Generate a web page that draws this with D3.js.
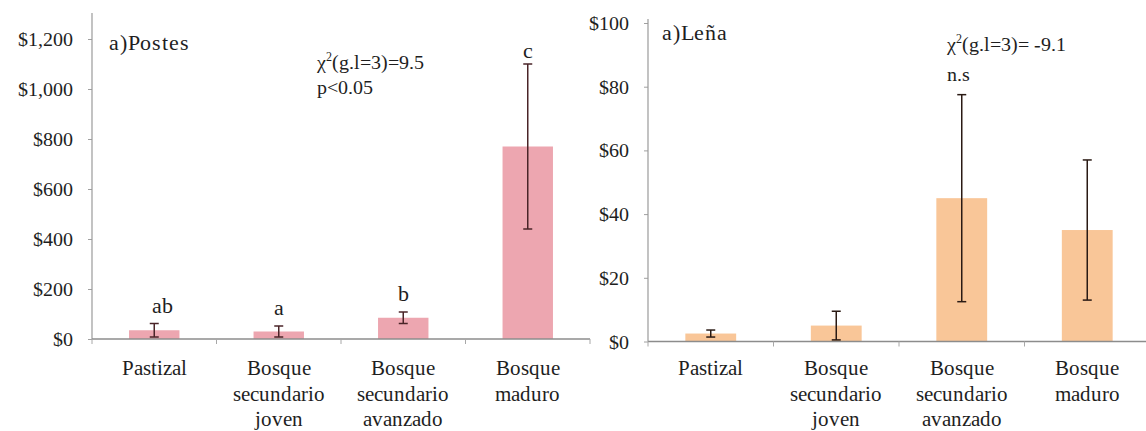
<!DOCTYPE html>
<html>
<head>
<meta charset="utf-8">
<script src="https://cdn.jsdelivr.net/npm/d3@7"></script>
<style>
  @font-face { font-family: "ChartSerif"; src: local("Liberation Serif"), local("LiberationSerif"), local("Tinos"), local("Times New Roman"); }
  html, body { margin: 0; padding: 0; background: #fff; }
  svg { display: block; }
  svg text { fill: #1e1e1e; }
</style>
</head>
<body>
<svg id="chart" width="1146" height="431"></svg>
<script>
// Land-use categories (x axis), one line per label row
const categories = ["Pastizal", "Bosque secundario joven", "Bosque secundario avanzado", "Bosque maduro"];
const categoryLines = [["Pastizal"], ["Bosque", "secundario", "joven"], ["Bosque", "secundario", "avanzado"], ["Bosque", "maduro"]];

// Panel 1: posts (postes) value, mean and error
const postesMean = [35, 30, 85, 770];
const postesErr = [27, 22, 23, 330];
const postesLetters = ["ab", "a", "b", "c"];
const postesTicks = [0, 200, 400, 600, 800, 1000, 1200];

// Panel 2: firewood (leña) value, mean and error
const lenaMean = [2.5, 5, 45, 35];
const lenaErr = [1.1, 4.5, 32.5, 22];
const lenaTicks = [0, 20, 40, 60, 80, 100];

const svg = d3.select("#chart");
const fmt = d3.format("$,");
const FONT = '"ChartSerif", "Liberation Serif", "Times New Roman", serif';

// all text is placed on the root svg, in serif
function label(x, y, size, txt, anchor) {
  return svg.append("text")
    .attr("x", x).attr("y", y)
    .attr("font-size", size).attr("text-anchor", anchor || "start")
    .attr("font-family", FONT)
    .style("font-family", FONT)
    .text(txt);
}

function drawPanel(p) {
  const g = svg.append("g");
  const rows = categories.map((c, i) => ({ c, lines: categoryLines[i], mean: p.mean[i], err: p.err[i], letter: p.letters ? p.letters[i] : null }));

  const x = d3.scaleBand().domain(categories).range([p.x0, p.x1]).paddingInner(0.595).paddingOuter(0.2975);
  const y = d3.scaleLinear().domain(p.domain).range([p.y0, p.yTop]);

  // y axis: tick marks from d3.axisLeft, labels in serif
  const yAxis = d3.axisLeft(y).tickValues(p.ticks).tickFormat("").tickSize(4).tickSizeOuter(0);
  const ya = g.append("g").attr("transform", `translate(${p.x0},0)`).call(yAxis);
  ya.select(".domain").remove();
  ya.selectAll(".tick line").attr("stroke", "#a0a0a0");
  p.ticks.forEach(t => label(p.x0 - 19, y(t) + 7, 20, fmt(t), "end"));
  g.append("line").attr("x1", p.x0).attr("x2", p.x0).attr("y1", p.y0).attr("y2", p.lineTop)
    .attr("stroke", "#9a9a9a").attr("stroke-width", 1.2);

  // bars
  g.selectAll("rect.bar").data(rows).join("rect").attr("class", "bar")
    .attr("x", d => x(d.c)).attr("width", x.bandwidth())
    .attr("y", d => y(d.mean)).attr("height", d => y(0) - y(d.mean))
    .attr("fill", p.color);

  // x axis line with category separators
  g.append("line").attr("x1", p.x0).attr("x2", p.x1).attr("y1", y(0)).attr("y2", y(0))
    .attr("stroke", "#8c8c8c").attr("stroke-width", 1.6);
  const step = x.step();
  g.selectAll("line.sep").data(d3.range(categories.length + 1)).join("line").attr("class", "sep")
    .attr("x1", i => p.x0 + i * step).attr("x2", i => p.x0 + i * step)
    .attr("y1", y(0)).attr("y2", y(0) + 5).attr("stroke", "#a8a8a8").attr("stroke-width", 1);

  // error bars
  const cx = d => x(d.c) + x.bandwidth() / 2;
  const lo = d => y(Math.max(0, d.mean - d.err));
  const hi = d => y(d.mean + d.err);
  const eb = g.selectAll("g.err").data(rows).join("g").attr("class", "err")
    .attr("stroke", p.errColor).attr("stroke-width", 1.5);
  eb.append("line").attr("x1", cx).attr("x2", cx).attr("y1", hi).attr("y2", lo);
  eb.append("line").attr("x1", d => cx(d) - 4.5).attr("x2", d => cx(d) + 4.5).attr("y1", hi).attr("y2", hi);
  eb.append("line").attr("x1", d => cx(d) - 4.5).attr("x2", d => cx(d) + 4.5).attr("y1", lo).attr("y2", lo);

  // significance letters and category labels
  rows.forEach(d => {
    if (d.letter) label(cx(d) + (d.letter.length > 1 ? 8 : 0), hi(d) - (d.letter === "c" ? 6 : 11), 22, d.letter, "middle");
    d.lines.forEach((l, i) => label(cx(d), 375 + i * 25.5, 21, l, "middle"));
  });

  // panel title
  label(p.titleX, p.titleY, 22, p.title).style("letter-spacing", "0.8px");

  // test statistic
  const st = label(p.statX, p.statY, 20, "");
  st.append("tspan").text("\u03C7");
  st.append("tspan").attr("font-size", 12).attr("dy", -8).text("2");
  st.append("tspan").attr("dy", 8).text(p.stat);
  label(p.statX, p.statY2, 20, p.sig);
}

drawPanel({
  mean: postesMean, err: postesErr, letters: postesLetters, ticks: postesTicks,
  domain: [0, 1200], x0: 92, x1: 590, y0: 339, yTop: 39, lineTop: 13,
  color: "#eda6b0", errColor: "#4a2428",
  title: "a)Postes", titleX: 109, titleY: 50,
  stat: "(g.l=3)=9.5", sig: "p<0.05", statX: 317, statY: 69, statY2: 94
});

drawPanel({
  mean: lenaMean, err: lenaErr, letters: null, ticks: lenaTicks,
  domain: [0, 100], x0: 648, x1: 1150, y0: 341.5, yTop: 23, lineTop: 19,
  color: "#f9c698", errColor: "#2a1a14",
  title: "a)Leña", titleX: 662, titleY: 40,
  stat: "(g.l=3)= -9.1", sig: "n.s", statX: 947, statY: 51, statY2: 81
});
</script>
</body>
</html>
